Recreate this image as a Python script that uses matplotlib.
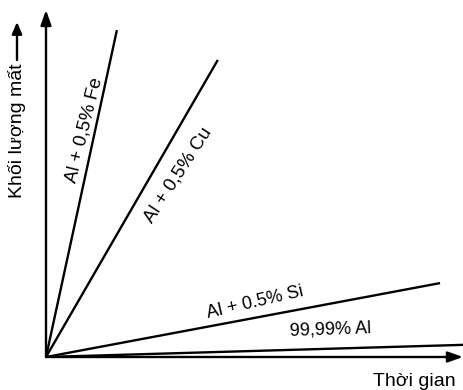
import matplotlib
matplotlib.use("Agg")
import matplotlib.pyplot as plt

plt.rcParams['font.family'] = ['Liberation Sans', 'DejaVu Sans']

# Data (arbitrary units)
series = ["Al + 0,5% Fe", "Al + 0,5% Cu", "Al + 0.5% Si", "99,99% Al"]
end_time = [1.70, 4.12, 9.45, 10.0]
end_mass = [9.42, 8.56, 2.13, 0.35]
label_x = [0.91, 3.17, 5.01, 6.83]
label_y = [6.54, 5.24, 1.58, 0.78]
label_rot = [76, 57, 13, 2]

x_label = "Thời gian"
y_label = "Khối lượng mất"

W, H = 464, 390
fig = plt.figure(figsize=(W / 100, H / 100), dpi=100)
ox, oy = 46, 357
tipx, tipy = 463, 10
ax = fig.add_axes([ox / W, (H - oy) / H, (tipx - ox) / W, (oy - tipy) / H])
ax.set_xlim(0, 10)
ax.set_ylim(0, 10)
ax.axis('off')

for t, m in zip(end_time, end_mass):
    ax.plot([0, t], [0, m], color='black', lw=1.7, solid_capstyle='butt')

for name, lx, ly, r in zip(series, label_x, label_y, label_rot):
    ax.text(lx, ly, name, rotation=r, ha='center', va='center',
            fontsize=13.5 if r > 30 else 13, color='black')

arrow_kw = dict(arrowstyle='-|>,head_length=0.9,head_width=0.32', color='black', lw=1.7,
                shrinkA=0, shrinkB=0)
ax.annotate('', xy=(0, 1), xycoords='axes fraction', xytext=(0, 0),
            textcoords='axes fraction', arrowprops=arrow_kw)
ax.annotate('', xy=(1, 0), xycoords='axes fraction', xytext=(0, 0),
            textcoords='axes fraction', arrowprops=arrow_kw)

fig.text(17 / W, 1 - 131 / H, y_label, rotation=90, ha='center', va='center', fontsize=14)
ax.annotate('', xy=(17 / W, 1 - 22 / H), xycoords='figure fraction',
            xytext=(17 / W, 1 - 60 / H), textcoords='figure fraction',
            arrowprops=dict(arrowstyle='-|>,head_length=0.7,head_width=0.3', color='black',
                            lw=1.7, shrinkA=0, shrinkB=0))
fig.text(414 / W, 1 - 381 / H, x_label, ha='center', va='center', fontsize=14)

fig.savefig('out.png', dpi=100)
